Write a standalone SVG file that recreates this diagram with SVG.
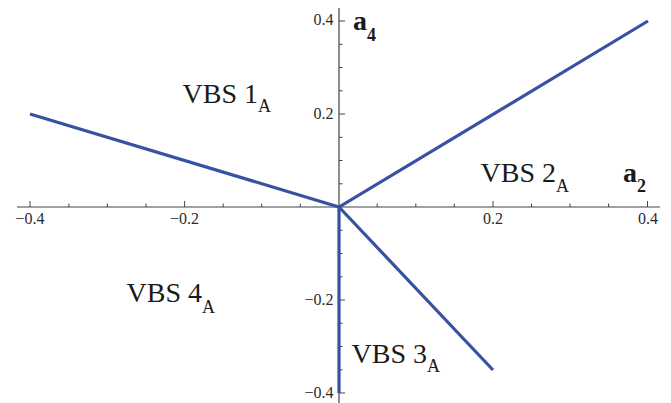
<svg xmlns="http://www.w3.org/2000/svg" width="671" height="403" viewBox="0 0 671 403">
<style>
.ax{stroke:#444;stroke-width:1.2;fill:none}
.tk{stroke:#444;stroke-width:1}
.tl{font-family:'Liberation Serif','Times New Roman',Times,serif;font-size:16px;fill:#2a2a2a}
.lab{font-family:'Liberation Serif','Times New Roman',Times,serif;font-size:28px;fill:#1a1a1a}
.sub{font-size:18px}
.axl{font-family:'Liberation Serif','Times New Roman',Times,serif;font-size:28px;font-weight:bold;fill:#1a1a1a}
.bl{stroke:#3851a3;stroke-width:3.2;fill:none;stroke-linecap:butt;stroke-linejoin:miter}
</style>
<rect width="671" height="403" fill="#fff"/>
<g id="axes">
<line class="ax" x1="17" y1="207" x2="660" y2="207"/>
<line class="ax" x1="339" y1="8" x2="339" y2="403"/>
<g class="tk">
<line x1="30" y1="201" x2="30" y2="207"/>
<line x1="68.9" y1="203.5" x2="68.9" y2="207"/>
<line x1="107.4" y1="203.5" x2="107.4" y2="207"/>
<line x1="146" y1="203.5" x2="146" y2="207"/>
<line x1="184.6" y1="201" x2="184.6" y2="207"/>
<line x1="223.2" y1="203.5" x2="223.2" y2="207"/>
<line x1="261.7" y1="203.5" x2="261.7" y2="207"/>
<line x1="300.3" y1="203.5" x2="300.3" y2="207"/>
<line x1="377.2" y1="203.5" x2="377.2" y2="207"/>
<line x1="415.8" y1="203.5" x2="415.8" y2="207"/>
<line x1="454.3" y1="203.5" x2="454.3" y2="207"/>
<line x1="493" y1="201" x2="493" y2="207"/>
<line x1="531.5" y1="203.5" x2="531.5" y2="207"/>
<line x1="570" y1="203.5" x2="570" y2="207"/>
<line x1="608.6" y1="203.5" x2="608.6" y2="207"/>
<line x1="647.5" y1="201" x2="647.5" y2="207"/>
<line x1="339" y1="21" x2="345" y2="21"/>
<line x1="339" y1="44.3" x2="342.5" y2="44.3"/>
<line x1="339" y1="67.5" x2="342.5" y2="67.5"/>
<line x1="339" y1="90.8" x2="342.5" y2="90.8"/>
<line x1="339" y1="114" x2="345" y2="114"/>
<line x1="339" y1="137.3" x2="342.5" y2="137.3"/>
<line x1="339" y1="160.5" x2="342.5" y2="160.5"/>
<line x1="339" y1="183.8" x2="342.5" y2="183.8"/>
<line x1="339" y1="230.3" x2="342.5" y2="230.3"/>
<line x1="339" y1="253.5" x2="342.5" y2="253.5"/>
<line x1="339" y1="276.8" x2="342.5" y2="276.8"/>
<line x1="339" y1="300" x2="345" y2="300"/>
<line x1="339" y1="323.3" x2="342.5" y2="323.3"/>
<line x1="339" y1="346.5" x2="342.5" y2="346.5"/>
<line x1="339" y1="369.8" x2="342.5" y2="369.8"/>
<line x1="339" y1="393" x2="345" y2="393"/>
</g>
<g class="tl" text-anchor="middle">
<text x="30" y="224">−0.4</text>
<text x="184.6" y="224">−0.2</text>
<text x="493" y="224">0.2</text>
<text x="648" y="224">0.4</text>
</g>
<g class="tl" text-anchor="end">
<text x="333.5" y="25">0.4</text>
<text x="333.5" y="119">0.2</text>
<text x="333.5" y="305">−0.2</text>
<text x="333.5" y="398">−0.4</text>
</g>
<text class="axl" x="353" y="30">a<tspan font-size="18" dy="11">4</tspan></text>
<text class="axl" x="623" y="181.5">a<tspan font-size="18" dy="10.5">2</tspan></text>
</g>
<g id="connectors">
<polyline class="bl" points="30,114 339,207 648,21"/>
<polyline class="bl" points="339,207 493,370"/>
<line class="bl" x1="339" y1="207" x2="339" y2="393"/>
</g>
<g id="vbs1"><text class="lab" x="182.5" y="103">VBS 1<tspan class="sub" dy="9">A</tspan></text></g>
<g id="vbs2"><text class="lab" x="480.5" y="181.5">VBS 2<tspan class="sub" dy="10.5">A</tspan></text></g>
<g id="vbs3"><text class="lab" x="351.5" y="363">VBS 3<tspan class="sub" dy="8.5">A</tspan></text></g>
<g id="vbs4"><text class="lab" x="126.5" y="301.5">VBS 4<tspan class="sub" dy="11">A</tspan></text></g>
</svg>
